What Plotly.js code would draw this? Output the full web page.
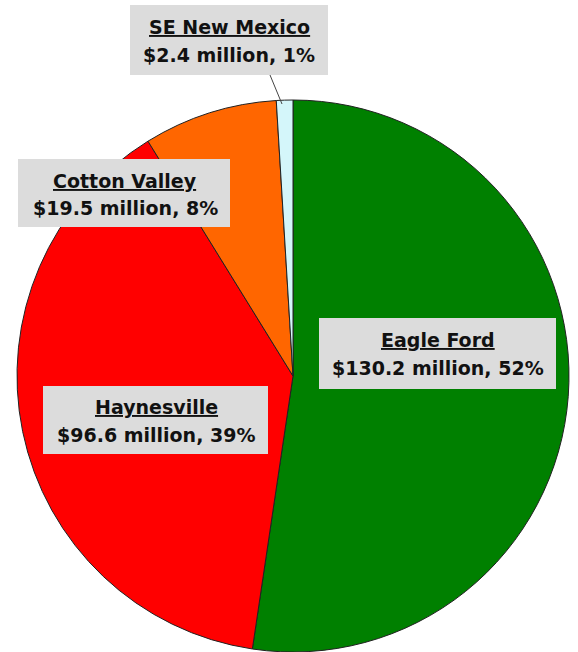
<!DOCTYPE html>
<html>
<head>
<meta charset="utf-8">
<script src="https://cdn.plot.ly/plotly-3.0.1.min.js"></script>
<style>html,body{margin:0;padding:0;background:#fff;}#chart{width:578px;height:652px;}</style>
</head>
<body>
<div id="chart"></div>
<script>
// Data
var regions = ["Eagle Ford", "Haynesville", "Cotton Valley", "SE New Mexico"];
var valuesMillion = [130.2, 96.6, 19.5, 2.4];
var sliceColors = ["#008000", "#ff0000", "#ff6600", "#d4f6fa"];

var W = 578, H = 652;
function px(x){ return x / W; }
function py(y){ return 1 - y / H; }

var total = valuesMillion.reduce(function(a,b){return a+b;}, 0);
var pct = valuesMillion.map(function(v){ return Math.round(v / total * 100); });

var trace = {
  type: "pie",
  labels: regions,
  values: valuesMillion,
  sort: false,
  direction: "clockwise",
  rotation: 0,
  marker: { colors: sliceColors, line: { color: "#222", width: 1 } },
  textinfo: "none",
  textposition: "none",
  hoverinfo: "none",
  showlegend: false,
  domain: { x: [px(17), px(569)], y: [0, py(100)] }
};

// label boxes (pixel layout): [x0, x1, y0, y1, centerX, line1Y, line2Y]
var boxes = [
  [319, 556, 318, 389, 438, 340, 368],
  [43, 268, 386, 454, 156, 407, 435],
  [18, 230, 159, 227, 125, 181, 208],
  [130, 328, 5, 75, 229, 27, 55]
];

var shapes = [], annotations = [];
var font = { family: "DejaVu Sans, Liberation Sans, Arial, sans-serif", size: 19, color: "#111" };
boxes.forEach(function(b, i){
  shapes.push({ type: "rect", xref: "paper", yref: "paper",
    x0: px(b[0]), x1: px(b[1]), y0: py(b[2]), y1: py(b[3]),
    fillcolor: "#dcdcdc", line: { width: 0 }, layer: "above" });
  annotations.push({ xref: "paper", yref: "paper", x: px(b[4]), y: py(b[5]),
    xanchor: "center", yanchor: "middle", showarrow: false,
    text: "<b><u>" + regions[i] + "</u></b>", font: font });
  annotations.push({ xref: "paper", yref: "paper", x: px(b[4]), y: py(b[6]),
    xanchor: "center", yanchor: "middle", showarrow: false,
    text: "<b>$" + valuesMillion[i] + " million, " + pct[i] + "%</b>", font: font });
});
// leader line for the small slice
shapes.push({ type: "line", xref: "paper", yref: "paper",
  x0: px(270), y0: py(75), x1: px(282), y1: py(104),
  line: { color: "#444", width: 1 } });

var layout = {
  width: W, height: H,
  margin: { l: 0, r: 0, t: 0, b: 0 },
  paper_bgcolor: "#ffffff",
  plot_bgcolor: "#ffffff",
  shapes: shapes,
  annotations: annotations
};

Plotly.newPlot("chart", [trace], layout, { staticPlot: true, displayModeBar: false });
</script>
</body>
</html>
